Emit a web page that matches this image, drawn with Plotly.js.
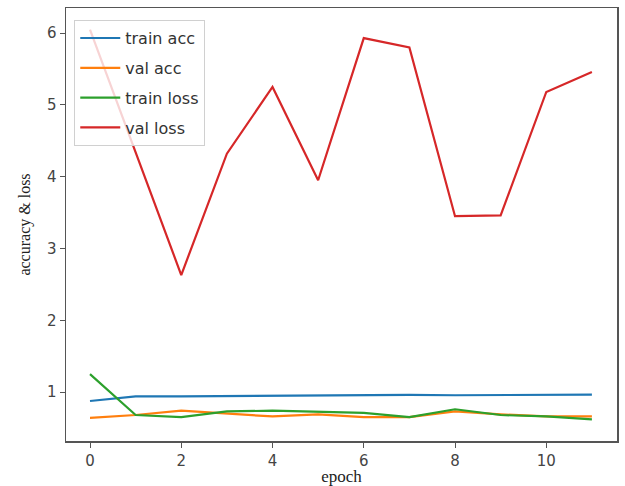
<!DOCTYPE html>
<html>
<head>
<meta charset="utf-8">
<script src="https://cdn.plot.ly/plotly-3.0.1.min.js"></script>
<style>html,body{margin:0;padding:0;background:#fff;}#chart{width:625px;height:486px;}</style>
</head>
<body>
<div id="chart"></div>
<script>
const epochs = [0,1,2,3,4,5,6,7,8,9,10,11];
const trainAcc = [0.875,0.94,0.94,0.945,0.95,0.95,0.955,0.96,0.955,0.96,0.965,0.965];
const valAcc = [0.64,0.68,0.74,0.70,0.66,0.69,0.65,0.65,0.73,0.69,0.66,0.66];
const trainLoss = [1.25,0.68,0.65,0.73,0.74,0.73,0.71,0.65,0.76,0.68,0.66,0.62];
const valLoss = [6.05,4.33,2.63,4.32,5.25,3.95,5.93,5.80,3.45,3.46,5.18,5.46];
const seriesNames = ["train acc","val acc","train loss","val loss"];
const colors = ["#1f77b4","#ff7f0e","#2ca02c","#d62728"];
const xTicks = [0,2,4,6,8,10];
const yTicks = [1,2,3,4,5,6];

const allSeries = [trainAcc, valAcc, trainLoss, valLoss];
const traces = allSeries.map((ys, i) => ({
  x: epochs, y: ys, type: "scatter", mode: "lines",
  name: seriesNames[i], legendgroup: "g" + i,
  line: {color: colors[i], width: 2.2}
}));

const tickFont = {family: "DejaVu Sans", size: 15, color: "#444"};
const layout = {
  width: 625, height: 486,
  margin: {l: 66, r: 8, t: 8, b: 45},
  paper_bgcolor: "#fff", plot_bgcolor: "#fff",
  showlegend: true,
  legend: {
    x: 0.015, y: 0.972, xanchor: "left", yanchor: "top",
    bgcolor: "rgba(255,255,255,0.8)", bordercolor: "#d0d0d0", borderwidth: 1,
    font: {family: "DejaVu Sans", size: 16, color: "#333"},
    traceorder: "grouped", tracegroupgap: 6, itemwidth: 40
  },
  xaxis: {
    range: [-0.526, 11.55], tickvals: xTicks, ticktext: xTicks.map(String),
    showgrid: false, zeroline: false, showline: true, mirror: true,
    linecolor: "#555", linewidth: 1.5, ticks: "outside", ticklen: 5, tickcolor: "#555",
    tickfont: tickFont,
    title: {text: "epoch", font: {family: "Liberation Serif", size: 17, color: "#222"}, standoff: 2}
  },
  yaxis: {
    range: [0.318, 6.35], tickvals: yTicks, ticktext: yTicks.map(String),
    showgrid: false, zeroline: false, showline: true, mirror: true,
    linecolor: "#555", linewidth: 1.5, ticks: "outside", ticklen: 5, tickcolor: "#555",
    tickfont: tickFont,
    title: {text: "accuracy &amp; loss", font: {family: "Liberation Serif", size: 16, color: "#222"}, standoff: 12}
  }
};
Plotly.newPlot("chart", traces, layout, {displayModeBar: false, staticPlot: true});
</script>
</body>
</html>
